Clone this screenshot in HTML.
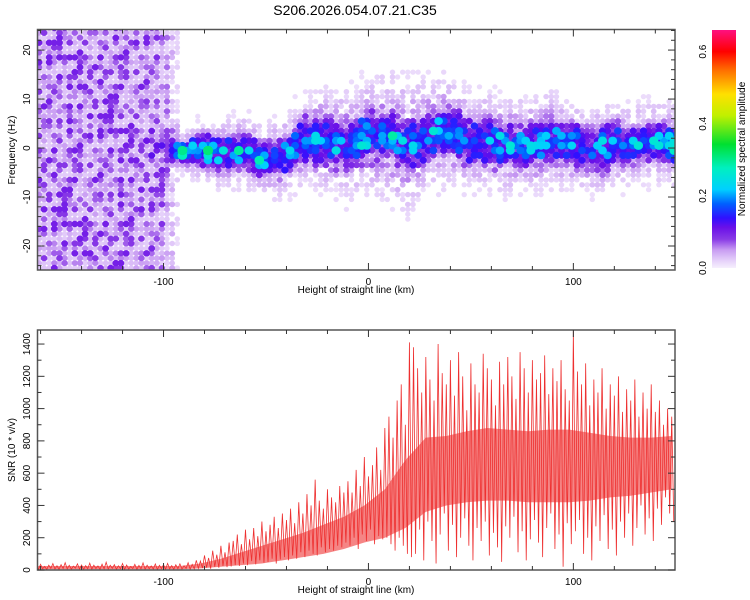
<!DOCTYPE html>
<html><head><meta charset="utf-8"><style>
html,body{margin:0;padding:0;background:#fff;}
svg{display:block;font-family:"Liberation Sans",sans-serif;}
</style></head><body>
<svg id="chart" width="750" height="600" viewBox="0 0 750 600">
<defs>
<clipPath id="clipTop"><rect x="37.5" y="29.5" width="637.5" height="240.5"/></clipPath>
<clipPath id="clipBot"><rect x="37.5" y="330" width="637.5" height="240"/></clipPath>
<linearGradient id="cbar" x1="0" y1="1" x2="0" y2="0">
<stop offset="0" stop-color="#f6effd"/><stop offset="0.03" stop-color="#e6d2fa"/><stop offset="0.076" stop-color="#c89cf2"/>
<stop offset="0.12" stop-color="#8a3ce6"/><stop offset="0.17" stop-color="#6a10e8"/><stop offset="0.21" stop-color="#3010ff"/>
<stop offset="0.27" stop-color="#0060ff"/><stop offset="0.33" stop-color="#00d0ff"/><stop offset="0.42" stop-color="#00f0c0"/>
<stop offset="0.52" stop-color="#00e030"/><stop offset="0.64" stop-color="#c0f000"/><stop offset="0.73" stop-color="#ffe000"/>
<stop offset="0.83" stop-color="#ff7000"/><stop offset="0.91" stop-color="#ff0000"/><stop offset="1" stop-color="#ff1080"/>
</linearGradient>
</defs>
<text x="355" y="15" text-anchor="middle" font-size="14" fill="#000">S206.2026.054.07.21.C35</text>
<g clip-path="url(#clipTop)"><g id="heat"></g></g>
<g id="topAxes"></g>
<g id="botPlot" clip-path="url(#clipBot)"></g>
<g id="botAxes"></g>
<rect x="712" y="30" width="24" height="238" fill="url(#cbar)"/>
<g id="cbAxis"></g>
<text transform="translate(745,149) rotate(-90)" text-anchor="middle" font-size="10">Normalized spectral amplitude</text>
<text transform="translate(15,150) rotate(-90)" text-anchor="middle" font-size="10">Frequency (Hz)</text>
<text x="356" y="293" text-anchor="middle" font-size="10">Height of straight line (km)</text>
<text transform="translate(15,450) rotate(-90)" text-anchor="middle" font-size="10">SNR (10 * v/v)</text>
<text x="356" y="593" text-anchor="middle" font-size="10">Height of straight line (km)</text>
</svg>
<script>
// ---- profile data for spectrogram (every 10 km from -162) ----
const profX = [-162,-152,-142,-132,-122,-112,-102,-92,-82,-72,-62,-52,-42,-32,-22,-12,-2,8,18,28,38,48,58,68,78,88,98,108,118,128,138,148];
const noiseAmp = [0.08,0.08,0.08,0.08,0.08,0.08,0.07,0.0,0,0,0,0,0,0,0,0,0,0,0,0,0,0,0,0,0,0,0,0,0,0,0,0];
const bandAmp = [0,0,0,0,0,0,0.05,0.3,0.28,0.24,0.26,0.3,0.24,0.25,0.26,0.22,0.25,0.22,0.22,0.24,0.22,0.22,0.23,0.2,0.22,0.22,0.22,0.22,0.23,0.26,0.3,0.45];
const bandCenter = [0,0,0,0,0,0,0,-1.5,-1,-2,-1,-3,-2,1,1,0,2,2,0,2,3,1,1,0,0,1,0,-1,0,0,1,0];
const bandWidth = [3,3,3,3,3,3,2,2,3,3,3,3,3,4,4,4,4,4,4,4,4,4,4,4,4,4,4,4,4,3,3,3];
const hazeAmp = [0,0,0,0,0,0,0.02,0.03,0.035,0.04,0.04,0.04,0.045,0.045,0.05,0.05,0.05,0.055,0.06,0.05,0.05,0.045,0.045,0.045,0.045,0.045,0.04,0.04,0.04,0.04,0.04,0.04];
const hazeWidth = [1,1,1,1,1,1,5,6,6,7,7,7,8,8,9,10,10,11,11,10,10,9,9,9,9,9,8,8,8,8,8,8];
const texture = [
"0371952048063915270481639",
"5820374916258037491620573",
"1946208573194620857319462",
"7305819462730581946273058",
"2689340715268934071526893",
"9152706348915270634891527",
"4078163529407816352940781",
"6514937280651493728065149",
"3890526174389052617438905",
"8243675019824367501982436",
"0617294853061729485306172",
"5732018946573201894657320",
"2495830617249583061724958"];
// ---- SNR data (2 km bins from -162 to 148) ----
const snrX0 = -162, snrStep = 2;
const snrMax = [28,35,22,30,40,26,33,45,29,24,38,31,27,42,30,25,36,48,29,33,26,40,31,22,35,28,44,30,25,37,29,33,41,27,32,38,26,45,35,
60,55,90,75,120,95,150,110,170,180,
220,160,250,190,260,210,300,240,280,330,260,350,
310,380,290,420,350,470,400,560,430,380,500,450,420,520,480,
550,480,620,520,700,580,650,760,620,880,
950,820,1050,1150,900,1410,
1380,1250,1100,1320,1180,1050,1400,1220,1150,1300,
1080,1350,1200,990,1280,1150,1100,1340,1250,1180,
1020,1290,1150,1320,1200,1060,1350,1250,1100,1300,
1180,1220,1330,1090,1250,1170,1300,1120,1050,1480,
1230,1150,1280,1020,1180,1100,1250,1000,1150,1080,
1200,980,1120,1050,1180,950,1100,1000,1150,980,
1050,900,1000,950];
const snrMin = [5,8,3,10,6,4,9,7,5,11,6,3,8,5,9,4,7,6,10,5,8,3,6,9,4,7,5,8,6,3,9,5,7,4,8,6,10,5,7,
10,12,15,8,20,14,25,18,22,30,
25,40,30,55,35,60,45,50,70,40,65,80,
60,90,70,110,80,120,100,90,140,110,130,120,150,140,170,
150,200,130,220,180,250,160,210,190,200,
160,120,200,150,100,80,
100,250,60,300,180,40,220,350,120,280,
80,200,320,150,60,260,180,300,90,230,
140,50,270,200,330,110,240,60,190,310,
170,80,260,350,130,220,20,290,160,240,
310,100,200,60,270,180,340,130,250,90,
300,200,350,150,260,400,220,320,180,380,
280,450,350,300];
// dense core of the SNR trace (10 km bins from -162)
const coreX0 = -162, coreStep = 10;
const snrCoreHi = [25,25,25,25,25,25,25,25,40,70,110,150,190,230,280,330,400,500,680,820,830,860,880,870,860,870,870,850,830,820,820,830];
const snrCoreLo = [5,5,5,5,5,5,5,5,10,20,30,40,60,80,100,130,170,200,260,360,400,420,430,430,420,420,420,430,450,460,480,500];
const topXTicks = [-100,0,100];
const topYTicks = [-20,-10,0,10,20];
const botYTicks = [0,200,400,600,800,1000,1200,1400];
const cbTicks = [0.0,0.2,0.4,0.6];

const NS="http://www.w3.org/2000/svg";
function mk(tag,attrs,parent){const e=document.createElementNS(NS,tag);for(const k in attrs)e.setAttribute(k,attrs[k]);parent.appendChild(e);return e;}
const PX0=37.5, PX1=675, XMIN=-161.5, XMAX=149.6;
const xs = v => PX0 + (v-XMIN)/(XMAX-XMIN)*(PX1-PX0);
const TY0=29.5, TY1=270, FMAX=24.2, FMIN=-24.9;
const yf = f => TY0 + (FMAX-f)/(FMAX-FMIN)*(TY1-TY0);
const BY0=330, BY1=570, SMAX=1487;
const ys = v => BY1 - v/SMAX*(BY1-BY0);
const CB0=268, CB1=30, CMAX=0.66;
const yc = v => CB0 - v/CMAX*(CB0-CB1);

const cmapStops=[[0,[246,239,253]],[0.02,[230,210,250]],[0.05,[200,156,242]],[0.08,[138,60,230]],[0.11,[106,16,232]],[0.14,[48,16,255]],[0.18,[0,96,255]],[0.22,[0,208,255]],[0.28,[0,240,192]],[0.34,[0,224,48]],[0.42,[192,240,0]],[0.48,[255,224,0]],[0.55,[255,112,0]],[0.6,[255,0,0]],[0.66,[255,16,128]]];
function cmap(v){v=Math.max(0,Math.min(0.66,v));for(let i=1;i<cmapStops.length;i++){const a=cmapStops[i-1],b=cmapStops[i];if(v<=b[0]){const t=(v-a[0])/(b[0]-a[0]);const c=a[1].map((x,j)=>Math.round(x+(b[1][j]-x)*t));return `rgb(${c[0]},${c[1]},${c[2]})`;}}return "rgb(255,16,128)";}
function prof(arr,x){const p=(x-profX[0])/10;const i=Math.max(0,Math.min(arr.length-2,Math.floor(p)));const t=Math.max(0,Math.min(1,p-i));return arr[i]*(1-t)+arr[i+1]*t;}

const heat=document.getElementById('heat');
const cw=2.5, ch=1;
const cells=[];
let ci=0;
for(let x=-162; x<150; x+=cw, ci++){
  const nA=prof(noiseAmp,x), bA=prof(bandAmp,x), bC=prof(bandCenter,x), bW=prof(bandWidth,x), hA=prof(hazeAmp,x), hW=Math.max(1,prof(hazeWidth,x));
  let ri=0;
  for(let f=-25; f<25; f+=ch, ri++){
    const row=texture[(ri*5+ci*7)%texture.length];
    const t1=+row[(ci*3+ri*11)%row.length]/9;
    const row2=texture[(ri*3+ci*11)%texture.length];
    const t2=+row2[(ci*13+ri*7)%row2.length]/9;
    const d=f-bC;
    let v=bA*Math.exp(-(d*d)/(bW*bW))*(0.4+0.6*t1*t1*t1);
    v+=nA*(0.3+t2*t2*0.95);
    v+=hA*Math.exp(-(d*d)/(hW*hW))*t2*1.5;
    if(v<0.012) continue;
    cells.push([x,f,v]);
  }
}
cells.sort((a,b)=>a[2]-b[2]);
cells.forEach(c=>{
  const v=c[2];
  const r=mk('ellipse',{cx:(xs(c[0])+2.5).toFixed(1),cy:(yf(c[1]+0.5)).toFixed(1),rx:(2.6+v*8).toFixed(1),ry:(2.5+v*7).toFixed(1),fill:cmap(v)},heat);
  
  
});

function frame(g,y0,y1){
  mk('rect',{x:PX0,y:y0,width:PX1-PX0,height:y1-y0,fill:'none',stroke:'#555','stroke-width':1.5},g);
  for(let v=-160; v<=140; v+=20){
    const major=(v%100===0); const L=major?7:4;
    mk('line',{x1:xs(v),x2:xs(v),y1:y1,y2:y1-L,stroke:'#333'},g);
    mk('line',{x1:xs(v),x2:xs(v),y1:y0,y2:y0+L,stroke:'#333'},g);
  }
}
const ta=document.getElementById('topAxes');
frame(ta,TY0,TY1);
for(let f=-24; f<=24; f+=2){const L=(f%10===0)?7:4;
  mk('line',{x1:PX0,x2:PX0+L,y1:yf(f),y2:yf(f),stroke:'#333'},ta);
  mk('line',{x1:PX1,x2:PX1-L,y1:yf(f),y2:yf(f),stroke:'#333'},ta);}
topXTicks.forEach(v=>{const t=mk('text',{x:xs(v),y:285,'text-anchor':'middle','font-size':10},ta);t.textContent=v;
  
  });
topYTicks.forEach(v=>{const t=mk('text',{transform:`translate(30,${yf(v)}) rotate(-90)`,'text-anchor':'middle','font-size':10},ta);t.textContent=v;
  
  });

const bp=document.getElementById('botPlot');
let cpts=[];
for(let i=0;i<snrCoreHi.length;i++) cpts.push(xs(coreX0+i*coreStep).toFixed(2)+','+ys(snrCoreHi[i]).toFixed(2));
for(let i=snrCoreLo.length-1;i>=0;i--) cpts.push(xs(coreX0+i*coreStep).toFixed(2)+','+ys(snrCoreLo[i]).toFixed(2));
const core=mk('polygon',{points:cpts.join(' '),fill:'#ee3333','fill-opacity':0.6},bp);


let pts=[];
for(let i=0;i<snrMax.length;i++){
  const x=snrX0+i*snrStep;
  pts.push(xs(x).toFixed(2)+','+ys(snrMax[i]).toFixed(2));
  pts.push(xs(x+snrStep/2).toFixed(2)+','+ys(snrMin[i]).toFixed(2));
}
const pl=mk('polyline',{points:pts.join(' '),fill:'none',stroke:'#ee3030','stroke-width':0.8},bp);



const ba=document.getElementById('botAxes');
frame(ba,BY0,BY1);
for(let v=0; v<=1480; v+=100){const L=(v%200===0)?7:4;
  mk('line',{x1:PX0,x2:PX0+L,y1:ys(v),y2:ys(v),stroke:'#333'},ba);
  mk('line',{x1:PX1,x2:PX1-L,y1:ys(v),y2:ys(v),stroke:'#333'},ba);}
topXTicks.forEach(v=>{const t=mk('text',{x:xs(v),y:585,'text-anchor':'middle','font-size':10},ba);t.textContent=v;
  
  });
botYTicks.forEach(v=>{const t=mk('text',{transform:`translate(30,${ys(v)}) rotate(-90)`,'text-anchor':'middle','font-size':10},ba);t.textContent=v;
  
  });

const cb=document.getElementById('cbAxis');
cbTicks.forEach(v=>{const t=mk('text',{transform:`translate(706,${yc(v)}) rotate(-90)`,'text-anchor':'middle','font-size':10},cb);t.textContent=v.toFixed(1);
  
  });
</script>
</body></html>
